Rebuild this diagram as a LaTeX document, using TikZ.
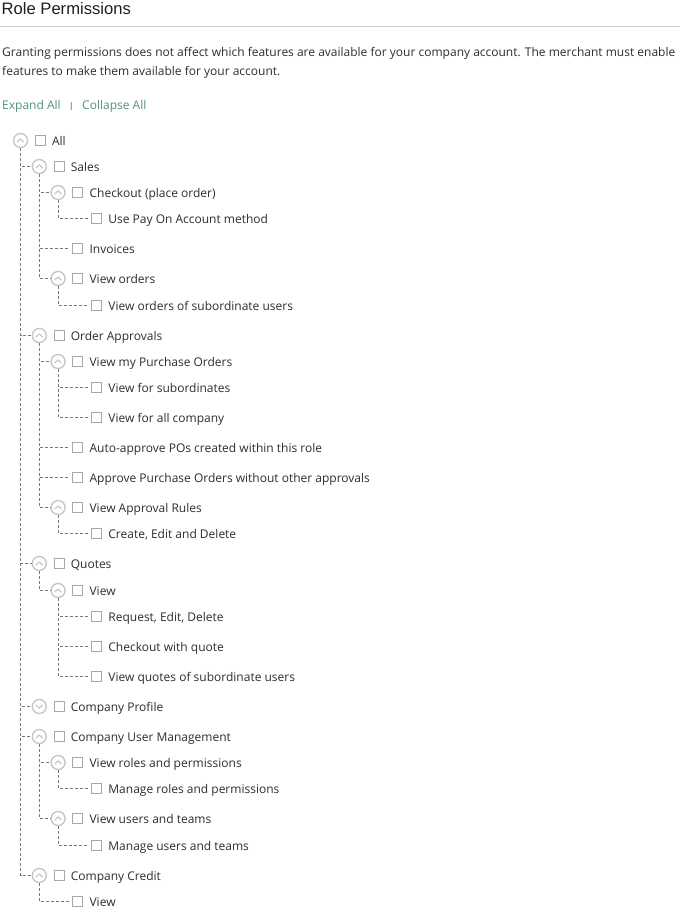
\documentclass[tikz,border=0pt]{standalone}
\usepackage{fontspec}
\setmainfont{Open Sans}
\newfontfamily\titlefont{Liberation Sans}
\usetikzlibrary{calc}
\definecolor{txt}{HTML}{2E2E2E}
\definecolor{lnk}{RGB}{84,144,124}
\definecolor{rulec}{HTML}{CCCCCC}
\definecolor{boxc}{HTML}{A8A8A8}
\definecolor{circc}{HTML}{C4C4C4}
\definecolor{dashc}{HTML}{7A7A7A}
\tikzset{
  cbox/.style={draw=boxc, line width=0.9pt, fill=white, minimum width=10pt, minimum height=10pt, inner sep=0pt, outer sep=0pt},
  tcirc/.style={circle, draw=circc, line width=1.3pt, fill=white, minimum size=14pt, inner sep=0pt, outer sep=0.6pt},
  chev/.style={draw=circc, line width=1.1pt, line cap=round, line join=round},
  ltext/.style={anchor=base west, inner sep=0pt, text=txt, font=\fontsize{12}{14}\selectfont},
  conn/.style={draw=dashc, line width=1pt, dash pattern=on 3pt off 2pt},
}
\newcommand\itembox[4]{% name, depth, y, text
  \node[cbox] (b#1) at ({40.2+18.8*#2},#3) {};
  \node[ltext] (t#1) at ({51.8+18.8*#2},{#3+4.6}) {#4};
}
\newcommand\itemcirc[3]{% name, depth, y (up chevron)
  \node[tcirc] (c#1) at ({20.5+18.8*#2},#3) {};
  \draw[chev] ($(c#1.center)+(-3.2,1.4)$) -- ($(c#1.center)+(0,-1.6)$) -- ($(c#1.center)+(3.2,1.4)$);
}
\newcommand\itemcircdown[3]{% name, depth, y (down chevron)
  \node[tcirc] (c#1) at ({20.5+18.8*#2},#3) {};
  \draw[chev] ($(c#1.center)+(-3.2,-1.4)$) -- ($(c#1.center)+(0,1.6)$) -- ($(c#1.center)+(3.2,-1.4)$);
}
\newcommand\tocirc[2]{\draw[conn] (c#1.south) |- (c#2.west);}
\newcommand\toleaf[2]{\draw[conn] (c#1.south) |- ([xshift=-4pt]b#2.west);}
\begin{document}
\begin{tikzpicture}[x=1pt,y=-1pt]
\useasboundingbox (0,0) rectangle (680,915);
\fill[white] (0,0) rectangle (680,915);
% header
\node[anchor=base west, inner sep=0pt, text=black!88, font=\titlefont\fontsize{16.6}{20}\selectfont] (title) at (1.5,14.8) {Role Permissions};
\coordinate (rl) at (0,26.5);
\coordinate (rr) at (680,26.5);
\draw[rulec, line width=1pt] (rl) -- (rr);
\node[ltext] (p1) at (2,56.5) {Granting permissions does not affect which features are available for your company account. The merchant must enable};
\node[ltext] (p2) at (2,75.5) {features to make them available for your account.};
\node[ltext, text=lnk] (expand) at (2,110) {Expand All};
\node[anchor=base, inner sep=0pt, text=black!50, font=\fontsize{11}{12}\selectfont] (sep) at (71.3,110.5) {I};
\node[ltext, text=lnk] (collapse) at (82,110) {Collapse All};
% items
\itemcirc{0}{0}{140.5}\itembox{0}{0}{140.5}{All}
\itemcirc{1}{1}{166.5}\itembox{1}{1}{166.5}{Sales}
\itemcirc{2}{2}{192.5}\itembox{2}{2}{192.5}{Checkout (place order)}
\itembox{3}{3}{218.5}{Use Pay On Account method}
\itembox{4}{2}{248.5}{Invoices}
\itemcirc{5}{2}{278.5}\itembox{5}{2}{278.5}{View orders}
\itembox{6}{3}{305.5}{View orders of subordinate users}
\itemcirc{7}{1}{335.5}\itembox{7}{1}{335.5}{Order Approvals}
\itemcirc{8}{2}{361.5}\itembox{8}{2}{361.5}{View my Purchase Orders}
\itembox{9}{3}{387.5}{View for subordinates}
\itembox{10}{3}{417.5}{View for all company}
\itembox{11}{2}{447.5}{Auto-approve POs created within this role}
\itembox{12}{2}{477.5}{Approve Purchase Orders without other approvals}
\itemcirc{13}{2}{507.5}\itembox{13}{2}{507.5}{View Approval Rules}
\itembox{14}{3}{533.5}{Create, Edit and Delete}
\itemcirc{15}{1}{563.5}\itembox{15}{1}{563.5}{Quotes}
\itemcirc{16}{2}{590.5}\itembox{16}{2}{590.5}{View}
\itembox{17}{3}{616.5}{Request, Edit, Delete}
\itembox{18}{3}{646.5}{Checkout with quote}
\itembox{19}{3}{676.5}{View quotes of subordinate users}
\itemcircdown{20}{1}{706.5}\itembox{20}{1}{706.5}{Company Profile}
\itemcirc{21}{1}{736.5}\itembox{21}{1}{736.5}{Company User Management}
\itemcirc{22}{2}{762.5}\itembox{22}{2}{762.5}{View roles and permissions}
\itembox{23}{3}{788.5}{Manage roles and permissions}
\itemcirc{24}{2}{818.5}\itembox{24}{2}{818.5}{View users and teams}
\itembox{25}{3}{845.5}{Manage users and teams}
\itemcirc{26}{1}{875.5}\itembox{26}{1}{875.5}{Company Credit}
\itembox{27}{2}{901.5}{View}
% connectors
\tocirc{0}{1}\tocirc{0}{7}\tocirc{0}{15}\tocirc{0}{20}\tocirc{0}{21}\tocirc{0}{26}
\tocirc{1}{2}\toleaf{1}{4}\tocirc{1}{5}
\toleaf{2}{3}
\toleaf{5}{6}
\tocirc{7}{8}\toleaf{7}{11}\toleaf{7}{12}\tocirc{7}{13}
\toleaf{8}{9}\toleaf{8}{10}
\toleaf{13}{14}
\tocirc{15}{16}
\toleaf{16}{17}\toleaf{16}{18}\toleaf{16}{19}
\tocirc{21}{22}\tocirc{21}{24}
\toleaf{22}{23}
\toleaf{24}{25}
\toleaf{26}{27}
\end{tikzpicture}
\end{document}
